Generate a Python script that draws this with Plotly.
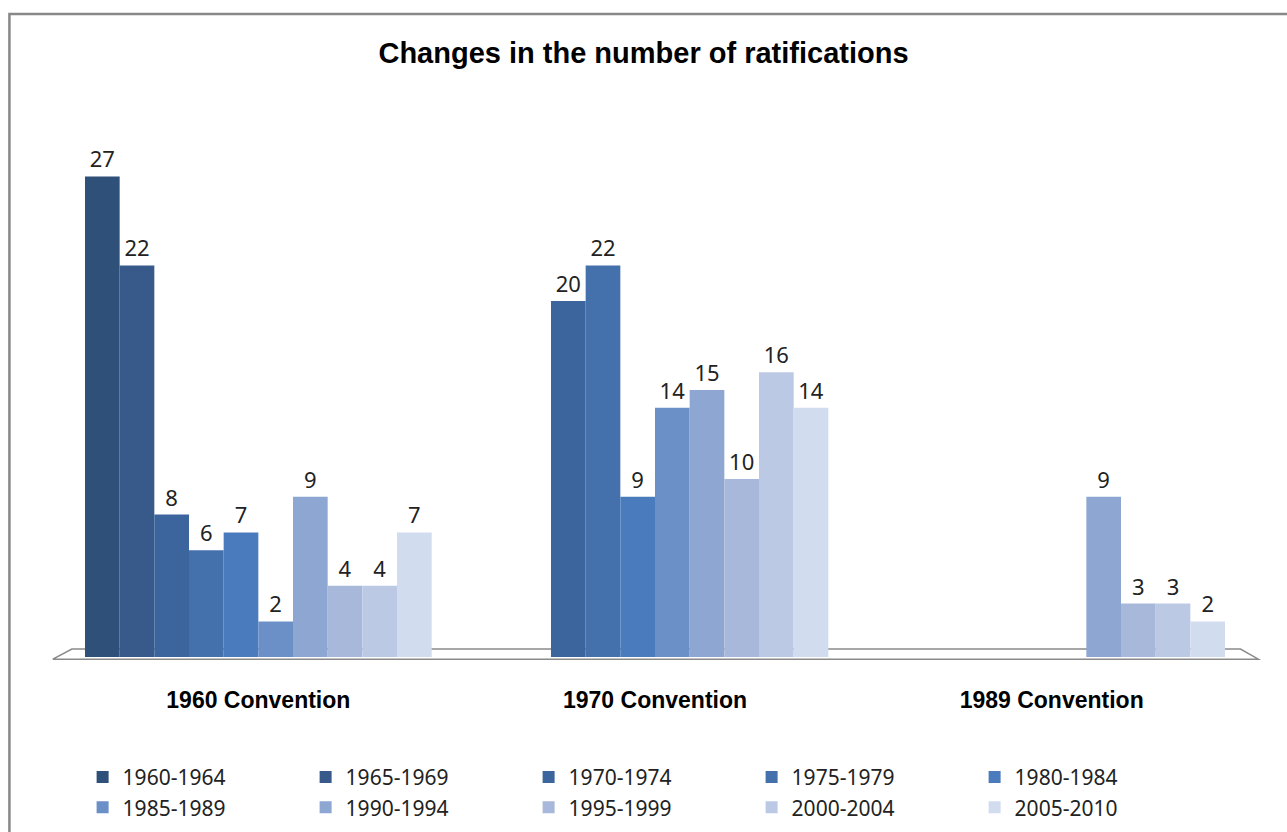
import plotly.graph_objects as go

categories = ["1960 Convention", "1970 Convention", "1989 Convention"]
periods = ["1960-1964", "1965-1969", "1970-1974", "1975-1979", "1980-1984",
           "1985-1989", "1990-1994", "1995-1999", "2000-2004", "2005-2010"]
# values per period, for [1960, 1970, 1989] conventions (None = not applicable)
v_1960_1964 = [27, None, None]
v_1965_1969 = [22, None, None]
v_1970_1974 = [8, 20, None]
v_1975_1979 = [6, 22, None]
v_1980_1984 = [7, 9, None]
v_1985_1989 = [2, 14, None]
v_1990_1994 = [9, 15, 9]
v_1995_1999 = [4, 10, 3]
v_2000_2004 = [4, 16, 3]
v_2005_2010 = [7, 14, 2]
series = [v_1960_1964, v_1965_1969, v_1970_1974, v_1975_1979, v_1980_1984,
          v_1985_1989, v_1990_1994, v_1995_1999, v_2000_2004, v_2005_2010]
colors = ["#2F5078", "#375A8B", "#3C659E", "#4470AC", "#4A7BBD",
          "#6B90C8", "#8EA6D2", "#A8B8DA", "#BCC9E5", "#D1DCEF"]

fig = go.Figure()
for name, vals, col in zip(periods, series, colors):
    fig.add_trace(go.Bar(
        x=categories, y=vals, name=name,
        marker=dict(color=col, line=dict(width=0)),
        text=[("" if v is None else str(v)) for v in vals],
        textposition="outside", cliponaxis=False,
        textfont=dict(family="Noto Sans", size=22, color="#222222"),
    ))

fig.update_layout(
    width=1287, height=832,
    margin=dict(l=60, r=37, t=123, b=175, autoexpand=False),
    paper_bgcolor="white", plot_bgcolor="white",
    barmode="group", bargap=0.126, bargroupgap=0,
    title=dict(text="<b>Changes in the number of ratifications</b>",
               x=0.5, xanchor="center", y=0.937, yanchor="middle",
               font=dict(family="Liberation Sans, Arial", size=29, color="#000")),
    xaxis=dict(showgrid=False, showline=False, zeroline=False, ticks="",
               tickvals=categories,
               ticktext=["<b>%s</b>" % c for c in categories],
               tickfont=dict(family="Liberation Sans, Arial", size=23, color="#000"),
               ticklabelstandoff=27, range=[-0.5, 2.5]),
    yaxis=dict(range=[0, 30], showgrid=False, showline=False, zeroline=False,
               showticklabels=False, ticks=""),
    legend=dict(orientation="h", x=0.019, y=-0.187, xanchor="left", yanchor="top",
                entrywidth=178, entrywidthmode="pixels", traceorder="normal",
                font=dict(family="Noto Sans", size=21, color="#222"),
                itemwidth=30, tracegroupgap=0),
    showlegend=True,
)

# 3D floor
fig.add_shape(type="path", xref="paper", yref="paper",
              path="M -0.006 -0.004 L 0.010 0.015 L 0.992 0.015 L 1.007 -0.004 Z",
              line=dict(color="#8a8a8a", width=1.5), fillcolor="rgba(0,0,0,0)",
              layer="below")
# outer frame
fig.add_shape(type="rect", xref="paper", yref="paper",
              x0=-0.0425, x1=1.1, y0=-0.5, y1=1.2041,
              line=dict(color="#888888", width=2.5), fillcolor="rgba(0,0,0,0)",
              layer="below")

fig.write_html("out.html")
